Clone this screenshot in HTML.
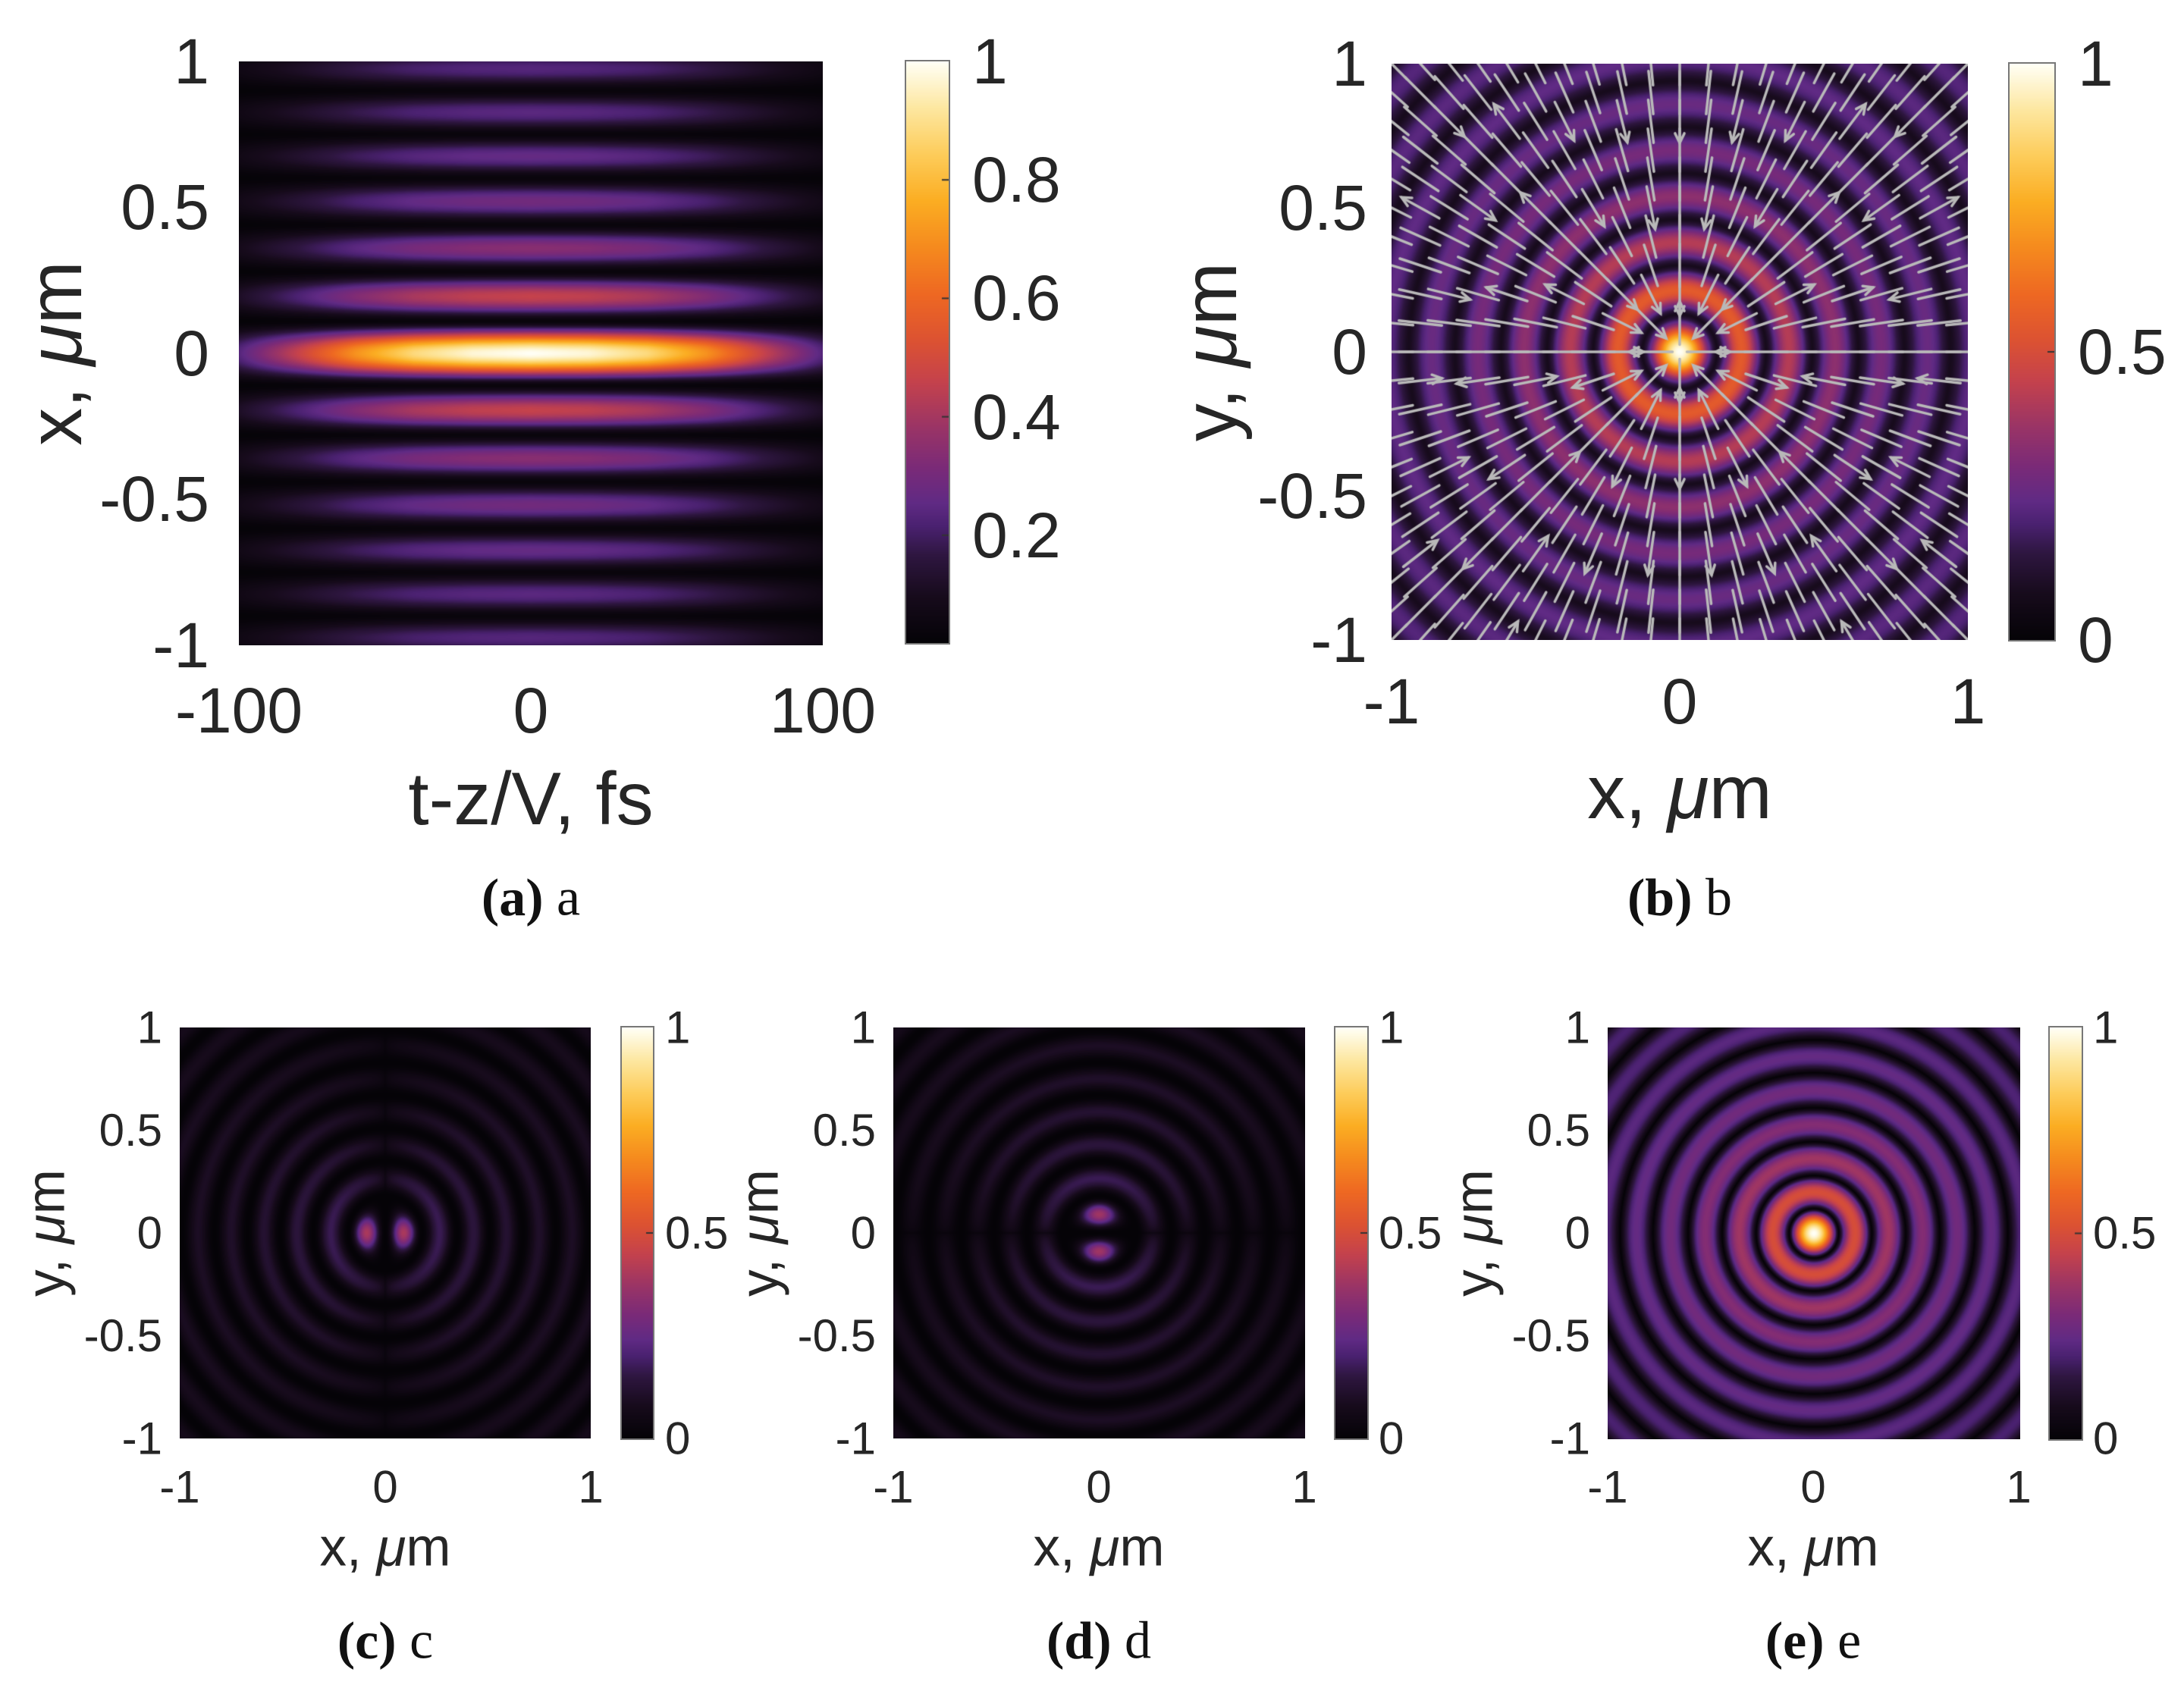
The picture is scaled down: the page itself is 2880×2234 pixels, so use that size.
<!DOCTYPE html>
<html><head><meta charset="utf-8">
<style>
html,body{margin:0;padding:0;background:#fff;}
#root{position:relative;width:2880px;height:2234px;overflow:hidden;background:#fff;}
canvas{position:absolute;display:block;}
svg{position:absolute;left:0;top:0;}
text{font-family:"Liberation Sans",sans-serif;fill:#262626;}
.cap{font-family:"Liberation Serif",serif;fill:#111;}
</style></head>
<body>
<div id="root">
<canvas id="ca" width="770" height="770" style="left:315px;top:81px"></canvas>
<canvas id="cba" width="56" height="767" style="left:1195px;top:81px;outline:2px solid #777"></canvas>
<canvas id="cb" width="760" height="760" style="left:1835px;top:84px"></canvas>
<canvas id="cbb" width="59" height="760" style="left:2650px;top:84px;outline:2px solid #777"></canvas>
<canvas id="cc" width="542" height="542" style="left:237px;top:1355px"></canvas>
<canvas id="cbc" width="41" height="542" style="left:820px;top:1355px;outline:2px solid #777"></canvas>
<canvas id="cd" width="543" height="542" style="left:1178px;top:1355px"></canvas>
<canvas id="cbd" width="42" height="542" style="left:1761px;top:1355px;outline:2px solid #777"></canvas>
<canvas id="ce" width="544" height="543" style="left:2120px;top:1355px"></canvas>
<canvas id="cbe" width="42" height="543" style="left:2703px;top:1355px;outline:2px solid #777"></canvas>

<svg width="2880" height="2234">
<g font-size="84" text-anchor="end">
<text x="276" y="81" dominant-baseline="central">1</text>
<text x="276" y="273" dominant-baseline="central">0.5</text>
<text x="276" y="466" dominant-baseline="central">0</text>
<text x="276" y="658" dominant-baseline="central">-0.5</text>
<text x="276" y="851" dominant-baseline="central">-1</text>
</g>
<g font-size="84" text-anchor="middle">
<text x="315" y="937" dominant-baseline="central">-100</text>
<text x="700" y="937" dominant-baseline="central">0</text>
<text x="1085" y="937" dominant-baseline="central">100</text>
</g>
<text x="700" y="1053" font-size="98" text-anchor="middle" dominant-baseline="central">t-z/V, fs</text>
<text transform="translate(73,466) rotate(-90)" font-size="100" text-anchor="middle" dominant-baseline="central">x, <tspan font-style="italic">μ</tspan>m</text>
<g font-size="84">
<text x="1282" y="81" dominant-baseline="central">1</text>
<text x="1282" y="237" dominant-baseline="central">0.8</text>
<text x="1282" y="393" dominant-baseline="central">0.6</text>
<text x="1282" y="550" dominant-baseline="central">0.4</text>
<text x="1282" y="706" dominant-baseline="central">0.2</text>
</g>
<text class="cap" x="700" y="1184" font-size="70" text-anchor="middle" dominant-baseline="central"><tspan font-weight="bold">(a)</tspan> a</text>

<g font-size="84" text-anchor="end">
<text x="1803" y="84" dominant-baseline="central">1</text>
<text x="1803" y="274" dominant-baseline="central">0.5</text>
<text x="1803" y="464" dominant-baseline="central">0</text>
<text x="1803" y="654" dominant-baseline="central">-0.5</text>
<text x="1803" y="844" dominant-baseline="central">-1</text>
</g>
<g font-size="84" text-anchor="middle">
<text x="1835" y="925" dominant-baseline="central">-1</text>
<text x="2215" y="925" dominant-baseline="central">0</text>
<text x="2595" y="925" dominant-baseline="central">1</text>
</g>
<text x="2215" y="1045" font-size="100" text-anchor="middle" dominant-baseline="central">x, <tspan font-style="italic">μ</tspan>m</text>
<text transform="translate(1596,464) rotate(-90)" font-size="100" text-anchor="middle" dominant-baseline="central">y, <tspan font-style="italic">μ</tspan>m</text>
<g font-size="84">
<text x="2740" y="84" dominant-baseline="central">1</text>
<text x="2740" y="464" dominant-baseline="central">0.5</text>
<text x="2740" y="844" dominant-baseline="central">0</text>
</g>
<text class="cap" x="2215" y="1184" font-size="70" text-anchor="middle" dominant-baseline="central"><tspan font-weight="bold">(b)</tspan> b</text>

<g id="small"></g>
</svg>
</div>
<script>
// ---- colormap (sampled from colorbar) ----
const cmapPos = [0, 0.08, 0.15, 0.2, 0.24, 0.3, 0.37, 0.45, 0.52, 0.6, 0.68, 0.76, 0.84, 0.92, 1];
const cmapCol = ['#050307','#170b1c','#2e1640','#4a2170','#602a84','#7a2a78','#9a3466','#c5424c','#dc5232','#ee6822','#f58a1e','#fbad22','#fdcc5a','#fde7a0','#fffff6'];

// ---- panel a data ----
const aZeros = [-0.11, 0.11, 0.28, 0.44, 0.60, 0.75, 0.90, 1.05, 1.20];
const aPeaks = [1, 0.45, 0.33, 0.28, 0.25, 0.23, 0.22, 0.21];
const aEnvT = [0, 20, 40, 60, 80, 100, 120];
const aEnvV = [1, 0.97, 0.88, 0.7, 0.45, 0.22, 0.1];
// ---- panel b data ----
const bZeros = [-0.13, 0.13, 0.30, 0.46, 0.62, 0.78, 0.94, 1.10, 1.26, 1.42, 1.58];
const bPeaks = [1, 0.55, 0.42, 0.34, 0.29, 0.26, 0.24, 0.23, 0.22, 0.21];
const bFloor = 0.08;
const bGridStep = 0.1;
const bArrowLen = 0.15;
// ---- panel c/d data ----
const cZeros = [0, 0.18, 0.35, 0.51, 0.67, 0.83, 0.99, 1.15, 1.31, 1.47, 1.63];
const cPeaks = [0.4, 0.17, 0.14, 0.12, 0.105, 0.095, 0.09, 0.085, 0.08, 0.075];
const dZeros = [0, 0.18, 0.35, 0.51, 0.67, 0.83, 0.99, 1.15, 1.31, 1.47, 1.63];
const dPeaks = [0.38, 0.17, 0.14, 0.12, 0.105, 0.095, 0.09, 0.085, 0.08, 0.075];
// ---- panel e data ----
const eZeros = [-0.12, 0.12, 0.28, 0.445, 0.61, 0.78, 0.94, 1.10, 1.26, 1.42, 1.58];
const ePeaks = [1, 0.5, 0.38, 0.32, 0.28, 0.25, 0.23, 0.21, 0.2, 0.19];
// ---- tick labels ----
const smallYTicks = ['1','0.5','0','-0.5','-1'];
const smallXTicks = ['-1','0','1'];
const smallCbTicks = ['1','0.5','0'];

function hex(h){return [parseInt(h.substr(1,2),16),parseInt(h.substr(3,2),16),parseInt(h.substr(5,2),16)];}
const LUT = [];
for (let i=0;i<=1000;i++){
  const v=i/1000; let k=0;
  while(k<cmapPos.length-2 && v>cmapPos[k+1]) k++;
  const t=(v-cmapPos[k])/(cmapPos[k+1]-cmapPos[k]);
  const a=hex(cmapCol[k]), b=hex(cmapCol[k+1]);
  LUT.push([a[0]+(b[0]-a[0])*t, a[1]+(b[1]-a[1])*t, a[2]+(b[2]-a[2])*t]);
}
function col(v){v=Math.max(0,Math.min(1,v));return LUT[Math.round(v*1000)];}
function interp(xs,ys,x){
  if(x<=xs[0])return ys[0];
  for(let i=0;i<xs.length-1;i++){ if(x<=xs[i+1]){const t=(x-xs[i])/(xs[i+1]-xs[i]);return ys[i]+(ys[i+1]-ys[i])*t;} }
  return ys[ys.length-1];
}
function prof(r, zeros, peaks, p, floor){
  let k=0;
  while(k<zeros.length-2 && r>=zeros[k+1]) k++;
  const t=Math.max(0,Math.min(1,(r-zeros[k])/(zeros[k+1]-zeros[k])));
  const pk = peaks[Math.min(k,peaks.length-1)];
  return floor + (pk-floor)*Math.pow(Math.abs(Math.sin(Math.PI*t)),p);
}
function ringIndex(r, zeros){let k=0;while(k<zeros.length-2 && r>=zeros[k+1])k++;return k;}
function paint(id, fn){
  const cv=document.getElementById(id), ctx=cv.getContext('2d');
  const W=cv.width,H=cv.height, img=ctx.createImageData(W,H), d=img.data;
  for(let j=0;j<H;j++){
    const y=1-2*(j+0.5)/H;
    for(let i=0;i<W;i++){
      const x=-1+2*(i+0.5)/W;
      const c=col(fn(x,y)); const o=(j*W+i)*4;
      d[o]=c[0];d[o+1]=c[1];d[o+2]=c[2];d[o+3]=255;
    }
  }
  ctx.putImageData(img,0,0);
  return ctx;
}
function colorbar(id, ticks){
  const cv=document.getElementById(id), ctx=cv.getContext('2d');
  const W=cv.width,H=cv.height;
  for(let j=0;j<H;j++){const c=col(1-j/(H-1));ctx.fillStyle='rgb('+c.map(Math.round).join(',')+')';ctx.fillRect(0,j,W,1);}
  ctx.strokeStyle='#333';ctx.lineWidth=2;
  ticks.forEach(f=>{const y=(1-f)*H;ctx.beginPath();ctx.moveTo(W-9,y);ctx.lineTo(W,y);ctx.stroke();});
}

paint('ca',(u,v)=>{const t=u*100;return prof(Math.abs(v),aZeros,aPeaks,1.6,0.02)*interp(aEnvT,aEnvV,Math.abs(t));});
colorbar('cba',[0.2,0.4,0.6,0.8].map(v=>(v-0.018)/0.982));
const ctxb = paint('cb',(x,y)=>prof(Math.hypot(x,y),bZeros,bPeaks,1.5,bFloor));
colorbar('cbb',[0.5]);
(function(){
  const W=760;
  const sx=x=>(x+1)/2*W, sy=y=>(1-y)/2*W;
  ctxb.strokeStyle='#b9b9b9';ctxb.lineWidth=3.5;ctxb.lineCap='round';
  const n=Math.round(2/bGridStep);
  for(let i=0;i<=n;i++)for(let j=0;j<=n;j++){
    const x=-1+i*bGridStep, y=-1+j*bGridStep, r=Math.hypot(x,y);
    if(r<1e-6)continue;
    const sgn = ringIndex(r,bZeros)%2===0?1:-1;
    const ux=x/r*sgn, uy=y/r*sgn, L=bArrowLen/2;
    const x0=sx(x-ux*L), y0=sy(y-uy*L), x1=sx(x+ux*L), y1=sy(y+uy*L);
    ctxb.beginPath();ctxb.moveTo(x0,y0);ctxb.lineTo(x1,y1);ctxb.stroke();
    if((i*3+j*7)%6===0 || r<0.25){
      const ang=Math.atan2(y1-y0,x1-x0), h=14;
      ctxb.beginPath();
      ctxb.moveTo(x1-h*Math.cos(ang-0.45),y1-h*Math.sin(ang-0.45));
      ctxb.lineTo(x1,y1);
      ctxb.lineTo(x1-h*Math.cos(ang+0.45),y1-h*Math.sin(ang+0.45));
      ctxb.stroke();
    }
  }
})();
function angExp(r){return r<cZeros[1]?2.2:0.25;}
paint('cc',(x,y)=>{const r=Math.hypot(x,y);const a=r>0?Math.abs(x)/r:0;return prof(r,cZeros,cPeaks,2,0)*Math.pow(a,angExp(r));});
paint('cd',(x,y)=>{const r=Math.hypot(x,y);const a=r>0?Math.abs(y)/r:0;return prof(r,dZeros,dPeaks,2,0)*Math.pow(a,angExp(r));});
paint('ce',(x,y)=>prof(Math.hypot(x,y),eZeros,ePeaks,1,0));
['cbc','cbd','cbe'].forEach(id=>colorbar(id,[0.5]));

const NS='http://www.w3.org/2000/svg';
const g=document.getElementById('small');
const offsets=[0,941,1883];
const letters=['c','d','e'];
function txt(parent,x,y,s,size,anchor,cls){
  const t=document.createElementNS(NS,'text');
  t.setAttribute('x',x);t.setAttribute('y',y);t.setAttribute('font-size',size);
  t.setAttribute('text-anchor',anchor);t.setAttribute('dominant-baseline','central');
  if(cls)t.setAttribute('class',cls);
  t.textContent=s;parent.appendChild(t);return t;
}
offsets.forEach((o,k)=>{
  const L=letters[k];
  const L0=237+o, T=1355, S=542, cbL=820+o;
  smallYTicks.forEach((s,i)=>{
    const t=txt(g,214+o,T+i*S/4,s,60,'end');
    
    
  });
  smallXTicks.forEach((s,i)=>{
    const t=txt(g,L0+i*S/2,1961,s,60,'middle');
    
    
  });
  smallCbTicks.forEach((s,i)=>{
    const t=txt(g,cbL+57,T+i*S/2,s,60,'start');
    
    
  });
  const xl=txt(g,L0+S/2,2041,'',71,'middle');
  xl.innerHTML='x, <tspan font-style="italic">μ</tspan>m';
  
  
  const yl=txt(g,0,0,'',71,'middle');
  yl.removeAttribute('x');yl.removeAttribute('y');
  yl.setAttribute('transform','translate('+(61+o)+','+(T+S/2)+') rotate(-90)');
  yl.innerHTML='y, <tspan font-style="italic">μ</tspan>m';
  
  
  const cp=txt(g,L0+S/2,2164,'',70,'middle','cap');
  cp.innerHTML='<tspan font-weight="bold">('+L+')</tspan> '+L;
  
  
});
</script>
</body></html>
